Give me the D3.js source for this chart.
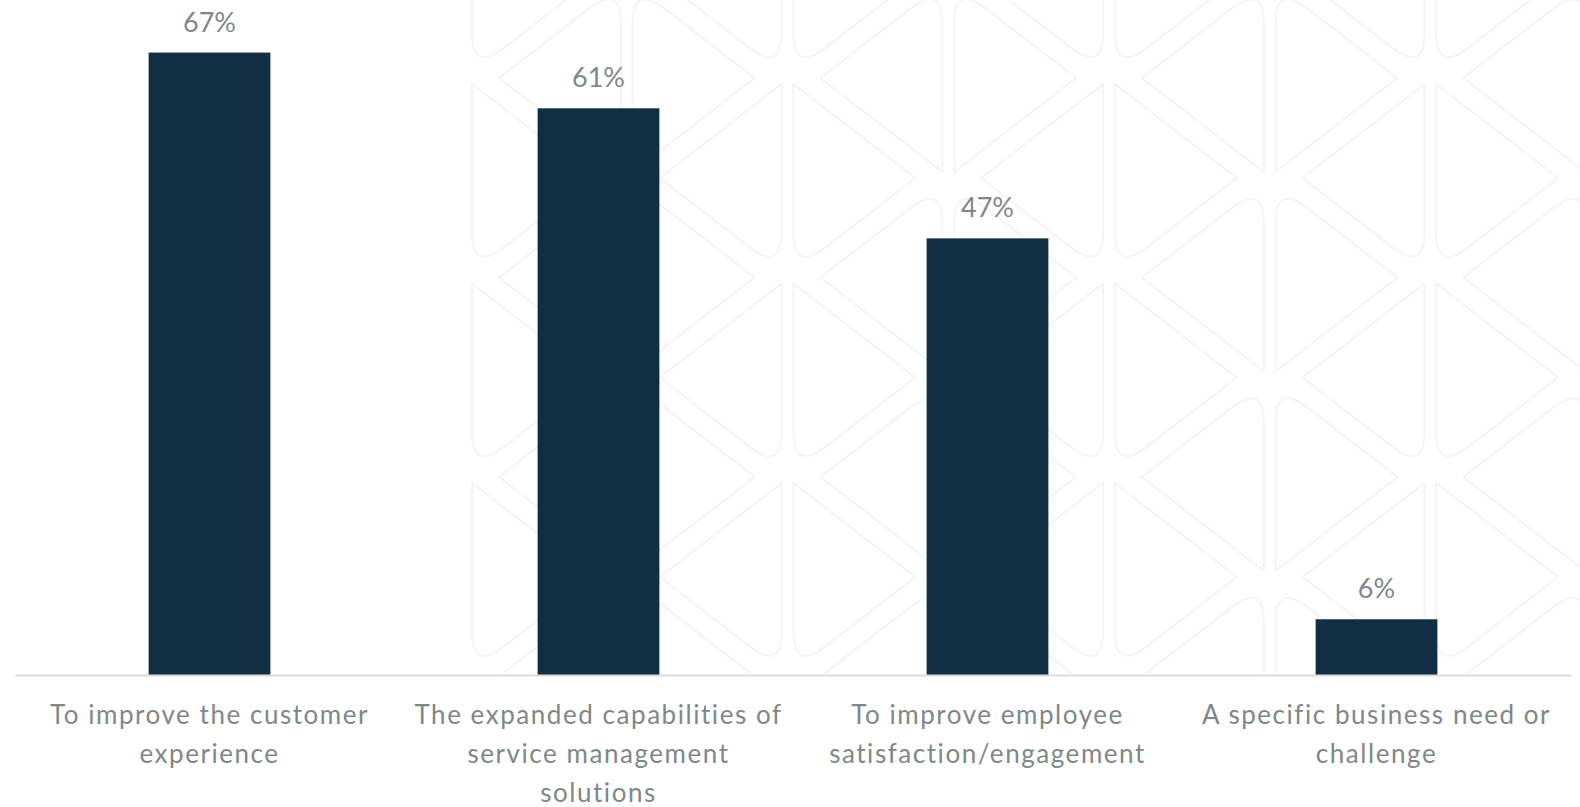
<!DOCTYPE html>
<html>
<head>
<meta charset="utf-8">
<script src="https://cdn.jsdelivr.net/npm/d3@7"></script>
<style>
  html, body { margin: 0; padding: 0; background: #ffffff; }
  svg { display: block; }
</style>
</head>
<body>
<svg id="chart" width="1580" height="807"></svg>
<script>
// Survey responses: drivers for the initiative
const categories = [
  "To improve the customer experience",
  "The expanded capabilities of service management solutions",
  "To improve employee satisfaction/engagement",
  "A specific business need or challenge"
];
// Axis label text, broken into lines
const categoryLines = [
  ["To improve the customer", "experience"],
  ["The expanded capabilities of", "service management", "solutions"],
  ["To improve employee", "satisfaction/engagement"],
  ["A specific business need or", "challenge"]
];
const values = [0.67, 0.61, 0.47, 0.06];

const W = 1580, H = 807;
const margin = { left: 15, right: 9, bottom: 132 };
const baseY = H - margin.bottom;          // 675
const fontFamily = "Lato, 'Open Sans', sans-serif";
const textColor = "#7f8888";
const barColor = "#112e42";

const svg = d3.select("#chart");

// ---- faint decorative background of interlocking rounded triangles ----
const defs = svg.append("defs");
defs.append("clipPath").attr("id", "patClip")
  .append("rect").attr("x", 465).attr("y", 0).attr("width", W - 465).attr("height", baseY - 2);

const pat = svg.append("g")
  .attr("clip-path", "url(#patClip)")
  .attr("fill", "none")
  .attr("stroke", "#f4f4f4")
  .attr("stroke-width", 2)
  .attr("stroke-linejoin", "round");

const colStart = 472, colStep = 160.7, colWidth = 149;
const rowStep = 199.5, triH = 188, tipDx = 122, cornerR = 40;

function triangle(edgeX, sharpY, dir, vdir) {
  const roundY = sharpY + vdir * triH;
  const tipX = edgeX + dir * tipDx, tipY = sharpY + vdir * triH / 2;
  const ux = tipX - edgeX, uy = tipY - roundY, len = Math.hypot(ux, uy);
  const p = d3.path();
  p.moveTo(edgeX, sharpY);
  p.lineTo(edgeX, roundY - vdir * cornerR);
  p.quadraticCurveTo(edgeX, roundY, edgeX + ux / len * cornerR, roundY + uy / len * cornerR);
  p.lineTo(tipX, tipY);
  p.closePath();
  return p.toString();
}

const shapes = [];
for (let i = 0; i < 8; i++) {
  const left = colStart + i * colStep, right = left + colWidth;
  for (let k = -1; k < 5; k++) {
    if (i % 2 === 0) {
      shapes.push(triangle(left, 84 + k * rowStep, 1, 1));
      shapes.push(triangle(right, 172 + k * rowStep, -1, -1));
    } else {
      shapes.push(triangle(left, 172 + k * rowStep, 1, -1));
      shapes.push(triangle(right, 84 + k * rowStep, -1, 1));
    }
  }
}
pat.selectAll("path").data(shapes).join("path").attr("d", d => d);

// ---- scales ----
const x = d3.scaleBand()
  .domain(categories)
  .range([margin.left, W - margin.right])
  .paddingInner(0.687)
  .paddingOuter(0.3435);

const y = d3.scaleLinear()
  .domain([0, 0.7])
  .range([baseY, baseY - 0.7 * 929]);

// ---- bars ----
svg.append("g").selectAll("rect")
  .data(values)
  .join("rect")
  .attr("x", (d, i) => x(categories[i]))
  .attr("y", d => y(d))
  .attr("width", x.bandwidth())
  .attr("height", d => y(0) - y(d))
  .attr("fill", barColor);

// ---- value labels ----
svg.append("g").selectAll("text")
  .data(values)
  .join("text")
  .attr("x", (d, i) => x(categories[i]) + x.bandwidth() / 2)
  .attr("y", d => y(d) - 21)
  .attr("text-anchor", "middle")
  .attr("font-family", fontFamily)
  .attr("font-size", 27)
  .attr("fill", textColor)
  .text(d => d3.format(".0%")(d));

// ---- category axis ----
const axis = svg.append("g")
  .attr("transform", `translate(0,${baseY})`)
  .call(d3.axisBottom(x).tickSize(0).tickSizeOuter(0).tickFormat(""));

axis.select(".domain").attr("stroke", "#dcdcdc").attr("stroke-width", 2);

axis.selectAll(".tick text").remove();
axis.selectAll(".tick").each(function(d, i) {
  const t = d3.select(this).append("text")
    .attr("text-anchor", "middle")
    .attr("font-family", fontFamily)
    .attr("font-size", 26)
    .attr("letter-spacing", "1.55px")
    .attr("fill", textColor)
    .attr("y", 49);
  categoryLines[i].forEach((line, j) => {
    t.append("tspan").attr("x", 0).attr("dy", j === 0 ? 0 : 38.8).text(line);
  });
});
</script>
</body>
</html>
